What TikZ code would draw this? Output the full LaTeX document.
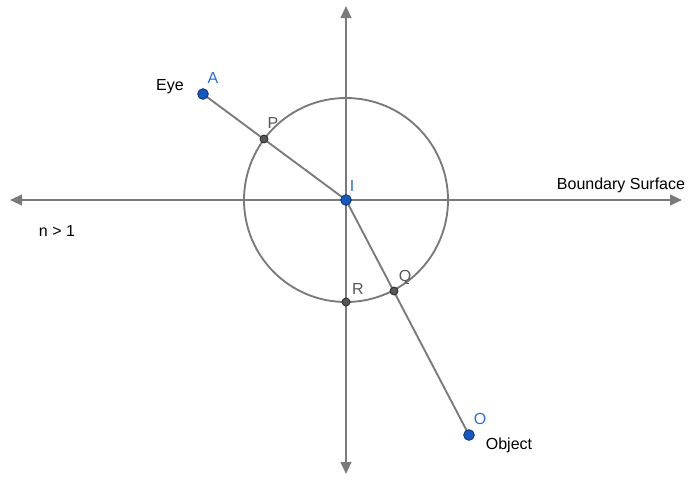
\documentclass[tikz,border=0pt]{standalone}
\usepackage{fontspec}
\setmainfont{Liberation Sans}
\usetikzlibrary{arrows.meta}
\definecolor{axisgray}{HTML}{7A7A7A}
\definecolor{ptblue}{HTML}{1558C0}
\definecolor{lblblue}{HTML}{2A6ED8}
\definecolor{ptgray}{HTML}{585858}
\tikzset{
  axisline/.style={axisgray, line width=1.5pt, {Triangle[length=9pt,width=8pt]}-{Triangle[length=9pt,width=8pt]}},
  rayline/.style={axisgray, line width=1.4pt},
  bluept/.style={circle, fill=ptblue, draw=ptblue!55!black, line width=0.6pt, inner sep=0pt, minimum size=8pt},
  graypt/.style={circle, fill=ptgray, draw=black!85, line width=0.6pt, inner sep=0pt, minimum size=6pt},
  bluelbl/.style={text=lblblue, inner sep=0pt},
  graylbl/.style={text=ptgray, inner sep=0pt},
  txt/.style={text=black, inner sep=0pt}
}

\begin{document}
\begin{tikzpicture}[x=0.75pt, y=-0.75pt, font=\fontsize{12}{14}\selectfont]
\useasboundingbox (0,0) rectangle (688,479);
% axes
\coordinate (west) at (10,200);
\coordinate (east) at (682,200);
\coordinate (north) at (346,6);
\coordinate (south) at (346,474);
\draw[axisline] (west) -- (east);
\draw[axisline] (south) -- (north);
% circle round I
\coordinate (I) at (346,200);
\draw[rayline] (I) circle[radius=102];
% points
\coordinate (A) at (203,94);
\coordinate (O) at (469,435);
\draw[rayline] (A) -- (I);
\draw[rayline] (I) -- (O);
\node[graypt] (P) at (264,139) {};
\node[graypt] (Q) at (394,291) {};
\node[graypt] (R) at (346,302) {};
\node[bluept] (ptA) at (A) {};
\node[bluept] (ptI) at (I) {};
\node[bluept] (ptO) at (O) {};
% labels
\node[bluelbl] (labA) at (213,78) {A};
\node[bluelbl] (labI) at (352,186) {I};
\node[bluelbl] (labO) at (480,419) {O};
\node[graylbl] (labP) at (273,123) {P};
\node[graylbl] (labQ) at (405,277) {Q};
\node[graylbl] (labR) at (358,289) {R};
\node[txt] (eye) at (170,87) {Eye};
\node[txt] (object) at (509,445) {Object};
\node[txt] (surface) at (621,185) {Boundary Surface};
\node[txt] (index) at (57,231) {n > 1};
\end{tikzpicture}
\end{document}
